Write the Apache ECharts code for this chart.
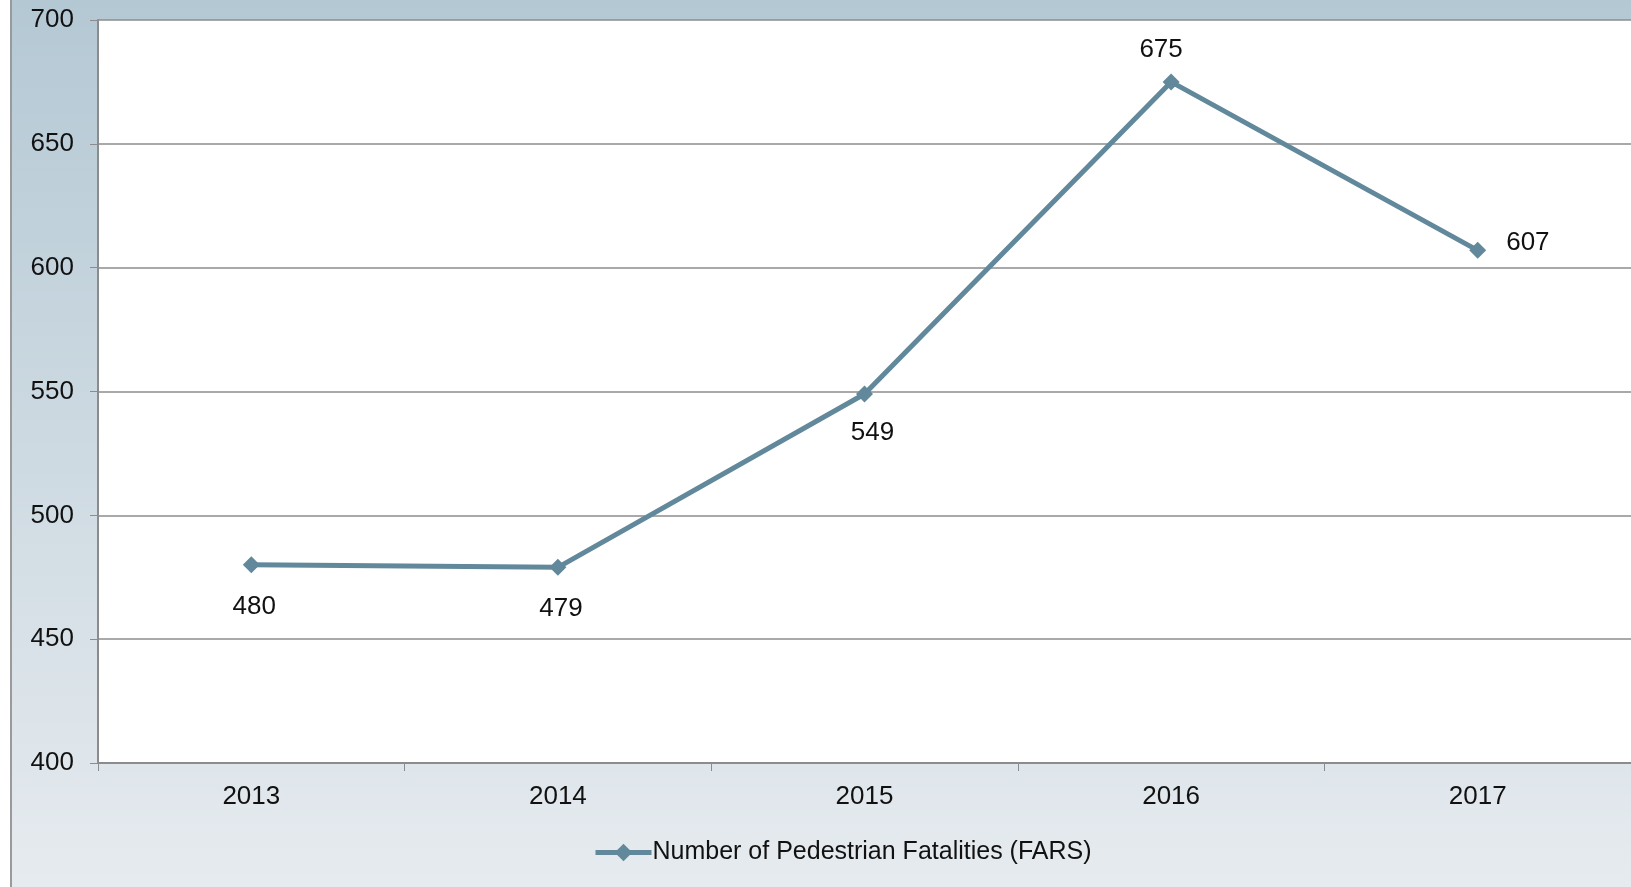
<!DOCTYPE html>
<html>
<head>
<meta charset="utf-8">
<script src="https://cdn.jsdelivr.net/npm/echarts@6/dist/echarts.min.js"></script>
<style>
  html, body { margin: 0; padding: 0; background: #fff; }
  #chart { width: 1631px; height: 887px; }
</style>
</head>
<body>
<div id="chart"></div>
<script>
    const years = ['2013', '2014', '2015', '2016', '2017'];
    const fatalities = [480, 479, 549, 675, 607];
    const labelPos = ['bottom', 'bottom', 'bottom', 'top', 'right'];
    const seriesName = 'Number of Pedestrian Fatalities (FARS)';

    const lineColor = '#62889b';
    const font = '"Liberation Sans", Arial, sans-serif';

    // small nudges so labels sit where the original put them
    const labelOffsets = [[3, 0], [3, 0], [8, -3], [-10, 3], [0, -8]];

    let points = fatalities.map((v, i) => {
        return {
            value: v,
            label: { position: labelPos[i], distance: labelPos[i] === 'top' ? 14 : 20, offset: labelOffsets[i] }
        };
    });

    let chart = echarts.init(document.getElementById('chart'));
    chart.setOption({
        backgroundColor: 'transparent',
        animation: false,
        graphic: [
            {
                type: 'rect',
                z: -10,
                silent: true,
                shape: { x: 12, y: 0, width: 1619, height: 887 },
                style: {
                    fill: new echarts.graphic.LinearGradient(0, 0, 0, 1, [
                        { offset: 0, color: '#b4c8d4' },
                        { offset: 1, color: '#e6ebef' }
                    ])
                }
            },
            {
                type: 'line',
                z: -9,
                silent: true,
                shape: { x1: 11, y1: 0, x2: 11, y2: 887 },
                style: { stroke: '#9a9a9a', lineWidth: 2 }
            }
        ],
        grid: {
            left: 98,
            top: 20,
            right: -2,
            bottom: 124,
            show: true,
            backgroundColor: '#ffffff',
            borderWidth: 0
        },
        legend: {
            bottom: 17,
            left: 588,
            itemWidth: 56,
            itemHeight: 22,
            itemGap: 4,
            data: [seriesName],
            lineStyle: { width: 5 },
            textStyle: { fontFamily: font, fontSize: 25, color: '#111', padding: [0, 0, 0, -4] }
        },
        xAxis: {
            type: 'category',
            data: years,
            boundaryGap: true,
            axisLine: { lineStyle: { color: '#8c8c8c', width: 2 } },
            axisTick: { show: true, interval: 0, length: 8, lineStyle: { color: '#8c8c8c', width: 1 } },
            axisLabel: { margin: 21, fontFamily: font, fontSize: 26, color: '#111' }
        },
        yAxis: {
            type: 'value',
            min: 400,
            max: 700,
            interval: 50,
            axisLine: { show: true, lineStyle: { color: '#8c8c8c', width: 2 } },
            axisTick: { show: true, length: 8, lineStyle: { color: '#8c8c8c', width: 1 } },
            axisLabel: { margin: 24, fontFamily: font, fontSize: 26, color: '#111' },
            splitLine: { lineStyle: { color: '#8c8c8c', width: 1.5 } }
        },
        series: [
            {
                name: seriesName,
                type: 'line',
                data: points,
                symbol: 'diamond',
                symbolSize: 17,
                lineStyle: { color: lineColor, width: 5 },
                itemStyle: { color: lineColor },
                label: {
                    show: true,
                    fontFamily: font,
                    fontSize: 26,
                    color: '#111'
                }
            }
        ]
    });
</script>
</body>
</html>
